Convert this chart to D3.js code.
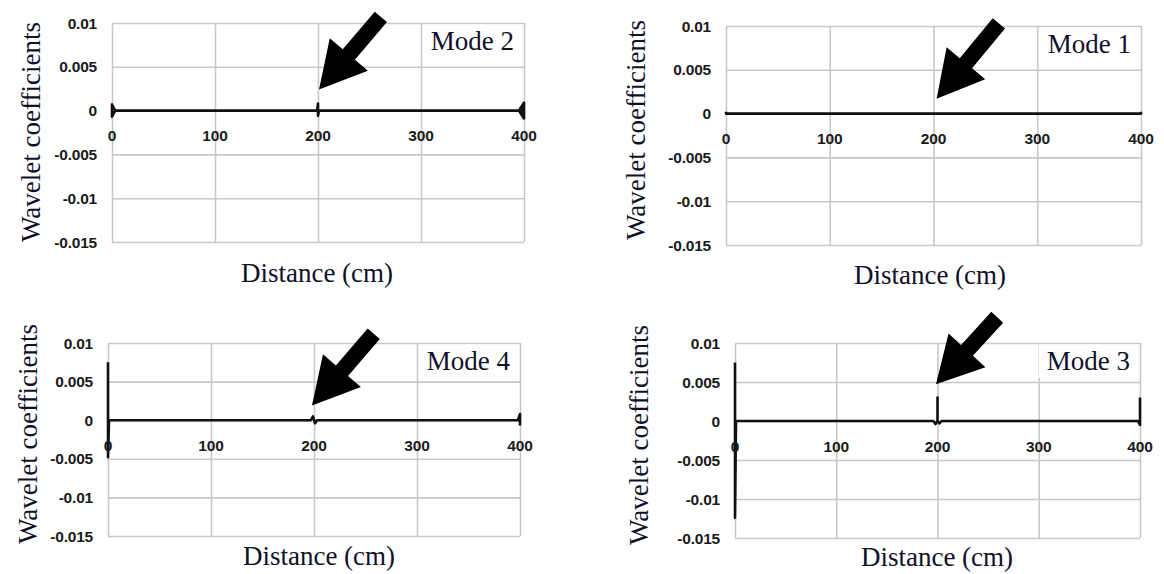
<!DOCTYPE html>
<html>
<head>
<meta charset="utf-8">
<script src="https://cdn.jsdelivr.net/npm/d3@7"></script>
<style>
  html, body { margin: 0; padding: 0; background: #fff; }
  svg { display: block; }
  .tick-label { font-family: "Liberation Sans", Arial, sans-serif; font-weight: bold; font-size: 15.5px; fill: #1a1a1a; letter-spacing: -0.2px; }
  .title { font-family: "Liberation Serif", "Times New Roman", serif; font-size: 27px; fill: #10102a; }
</style>
</head>
<body>
<svg id="chart" width="1164" height="574"></svg>
<script>
// axis values
const xTicks = [0, 100, 200, 300, 400];
const yTicks = [-0.015, -0.01, -0.005, 0, 0.005, 0.01];
const yTickLabels = ["-0.015", "-0.01", "-0.005", "0", "0.005", "0.01"];
const xTitle = "Distance (cm)";
const yTitle = "Wavelet coefficients";

// series, distance (cm) and wavelet coefficient
const mode1Dist = [0, 0, 200, 400, 400];
const mode1Coef = [0.0002, 0, 0, 0, 0.0002];

const mode2Dist = [3, 0, 0, 3, 199, 200, 200, 201, 395, 400, 400, 395, 398, 398];
const mode2Coef = [0, 0.0007, -0.0007, 0, 0, 0.0008, -0.0006, 0, 0, 0.0009, -0.0009, 0, 0.0004, -0.0004];

const mode3Dist = [0, 0, 1, 196, 198, 200, 200, 200, 202, 204, 398, 400, 400];
const mode3Coef = [0.0075, -0.0124, 0, 0, -0.0004, 0, 0.003, 0, -0.0003, 0, 0, -0.0005, 0.003];

const mode4Dist = [0, 0, 1, 197, 199, 201, 203, 398, 400, 400];
const mode4Coef = [0.0075, -0.0048, 0, 0, 0.0005, -0.0004, 0, 0, 0.0008, -0.0007];

// arrows: tip and tail in (cm, coefficient)
const mode1Arrow = [[203, 0.0017], [263, 0.0103]];
const mode2Arrow = [[201, 0.0024], [261, 0.0107]];
const mode3Arrow = [[198.5, 0.0047], [259, 0.0133]];
const mode4Arrow = [[198, 0.0019], [258, 0.0112]];

const svg = d3.select("#chart");

// layout of the four panels (pixel boxes of the plot areas)
const panels = [
  { label: "Mode 2", dist: mode2Dist, coef: mode2Coef, arrow: mode2Arrow,
    left: 112, right: 524, top: 23, bottom: 242, xTitleX: 317, xTitleY: 282, yTitleX: 31, yTitleY: 132 },
  { label: "Mode 1", dist: mode1Dist, coef: mode1Coef, arrow: mode1Arrow,
    left: 726, right: 1141, top: 26, bottom: 245, xTitleX: 930, xTitleY: 284, yTitleX: 636, yTitleY: 130 },
  { label: "Mode 4", dist: mode4Dist, coef: mode4Coef, arrow: mode4Arrow,
    left: 108, right: 520, top: 343, bottom: 536, xTitleX: 319, xTitleY: 565, yTitleX: 28, yTitleY: 434 },
  { label: "Mode 3", dist: mode3Dist, coef: mode3Coef, arrow: mode3Arrow,
    left: 735, right: 1140, top: 343, bottom: 538, xTitleX: 937, xTitleY: 566, yTitleX: 639, yTitleY: 435 }
];

panels.forEach(p => drawPanel(p));

function drawPanel(p) {
  const x = d3.scaleLinear().domain([0, 400]).range([p.left, p.right]);
  const y = d3.scaleLinear().domain([-0.015, 0.01]).range([p.bottom, p.top]);
  const g = svg.append("g");

  // gridlines
  g.append("g")
    .attr("transform", `translate(${p.left},0)`)
    .call(d3.axisLeft(y).tickValues(yTicks).tickSize(-(p.right - p.left)).tickFormat(""))
    .call(a => a.select(".domain").remove())
    .call(a => a.selectAll("line").attr("stroke", "#c8c8c8").attr("stroke-width", 1.6));
  g.append("g")
    .attr("transform", `translate(0,${p.bottom})`)
    .call(d3.axisBottom(x).tickValues(xTicks).tickSize(-(p.bottom - p.top)).tickFormat(""))
    .call(a => a.select(".domain").remove())
    .call(a => a.selectAll("line").attr("stroke", "#c8c8c8").attr("stroke-width", 1.6));

  // y tick labels
  g.selectAll(".ylab")
    .data(yTicks)
    .enter()
    .append("text")
    .attr("class", "tick-label")
    .attr("x", p.left - 15)
    .attr("y", d => y(d))
    .attr("dy", "0.36em")
    .attr("text-anchor", "end")
    .text((d, i) => yTickLabels[i]);

  // mode label with white box behind
  const lab = g.append("text")
    .attr("class", "title")
    .attr("x", p.right - 10)
    .attr("y", p.top + 27)
    .attr("text-anchor", "end")
    .text(p.label);
  const bb = lab.node().getBBox();
  g.insert("rect", function () { return lab.node(); })
    .attr("x", bb.x - 8)
    .attr("y", p.top + 1.5)
    .attr("width", p.right - 2 - (bb.x - 8))
    .attr("height", bb.y + bb.height + 2 - (p.top + 1.5))
    .attr("fill", "#fff");

  // data line
  const pts = p.dist.map((d, i) => [d, p.coef[i]]);
  g.append("path")
    .datum(pts)
    .attr("fill", "none")
    .attr("stroke", "#111")
    .attr("stroke-width", 2.6)
    .attr("stroke-linejoin", "round")
    .attr("d", d3.line().x(d => x(d[0])).y(d => y(d[1])));

  // x tick labels along the zero line
  g.selectAll(".xlab")
    .data(xTicks)
    .enter()
    .append("text")
    .attr("class", "tick-label")
    .attr("x", d => x(d))
    .attr("y", y(0) + 25)
    .attr("dy", "0.36em")
    .attr("text-anchor", "middle")
    .text(d => d);

  // axis titles
  g.append("text")
    .attr("class", "title")
    .attr("x", p.xTitleX)
    .attr("y", p.xTitleY)
    .attr("text-anchor", "middle")
    .text(xTitle);
  g.append("text")
    .attr("class", "title")
    .attr("transform", `translate(${p.yTitleX},${p.yTitleY}) rotate(-90)`)
    .attr("text-anchor", "middle")
    .attr("dy", "0.35em")
    .text(yTitle);

  // big black arrow pointing at the 200 cm position
  const tip = [x(p.arrow[0][0]), y(p.arrow[0][1])];
  const tail = [x(p.arrow[1][0]), y(p.arrow[1][1])];
  const dx = tail[0] - tip[0], dy = tail[1] - tip[1];
  const len = Math.sqrt(dx * dx + dy * dy);
  const ux = dx / len, uy = dy / len;   // from tip towards tail
  const nx = -uy, ny = ux;              // normal
  const headLen = 46, headHalf = 25, shaftHalf = 8;
  const base = [tip[0] + ux * headLen, tip[1] + uy * headLen];
  const poly = [
    tip,
    [base[0] + nx * headHalf, base[1] + ny * headHalf],
    [base[0] + nx * shaftHalf, base[1] + ny * shaftHalf],
    [tail[0] + nx * shaftHalf, tail[1] + ny * shaftHalf],
    [tail[0] - nx * shaftHalf, tail[1] - ny * shaftHalf],
    [base[0] - nx * shaftHalf, base[1] - ny * shaftHalf],
    [base[0] - nx * headHalf, base[1] - ny * headHalf]
  ];
  g.append("path")
    .attr("d", "M" + poly.map(q => q.join(",")).join("L") + "Z")
    .attr("fill", "#000");
}
</script>
</body>
</html>
